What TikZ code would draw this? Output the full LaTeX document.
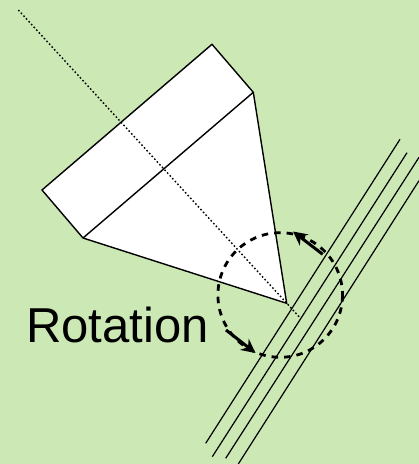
\documentclass[tikz,border=0pt]{standalone}
\usepackage{fontspec}
\setmainfont{Liberation Sans}
\usetikzlibrary{arrows.meta}
\definecolor{bgreen}{HTML}{CCE8B5}
\tikzset{
  outline/.style={draw=black,line width=1.4pt,line join=miter},
  axisline/.style={draw=black,line width=1.4pt,dash pattern=on 1.6pt off 2.2pt},
  railline/.style={draw=black,line width=1.2pt},
  dashcircle/.style={draw=black,line width=2.8pt,dash pattern=on 6.5pt off 6pt},
  rotarrow/.style={draw=black,line width=3pt,-{Stealth[length=14pt,width=14pt]}},
  bigtext/.style={font=\fontsize{49}{49}\selectfont,inner sep=0pt,anchor=base west}
}
\begin{document}
\begin{tikzpicture}[x=1pt,y=-1pt]
\useasboundingbox (0,0) rectangle (419,464);
\fill[bgreen] (0,0) rectangle (419,464);
\coordinate (A) at (212,44.3);
\coordinate (B) at (253.3,92.3);
\coordinate (C) at (286.7,303.3);
\coordinate (D) at (83,238);
\coordinate (E) at (42,190);
\coordinate (axisA) at (18.3,10);
\coordinate (axisB) at (300,317.7);
\fill[white] (A)--(B)--(C)--(D)--(E)--cycle;
\draw[outline] (A)--(B)--(C)--(D)--(E)--cycle;
\draw[outline] (B)--(D);
\draw[axisline] (axisA)--(axisB);
\coordinate (r1a) at (400,139.3);   \coordinate (r1b) at (205.7,443.3);
\coordinate (r2a) at (407,152.7);   \coordinate (r2b) at (212.3,456.7);
\coordinate (r3a) at (419,157.3);   \coordinate (r3b) at (225.7,458.3);
\coordinate (r4a) at (419,180.7);   \coordinate (r4b) at (238.3,464);
\draw[railline] (r1a)--(r1b);
\draw[railline] (r2a)--(r2b);
\draw[railline] (r3a)--(r3b);
\draw[railline] (r4a)--(r4b);
\coordinate (circ) at (280.2,295);
\draw[dashcircle] (circ) circle[radius=62.3];
\coordinate (a1s) at (322.7,254.3); \coordinate (a1e) at (293,231.5);
\coordinate (a2s) at (226,330);     \coordinate (a2e) at (255.5,353);
\draw[rotarrow] (a1s)--(a1e);
\draw[rotarrow] (a2s)--(a2e);
\node[bigtext] (label) at (26,342.5) {Rotation};
\end{tikzpicture}
\end{document}
